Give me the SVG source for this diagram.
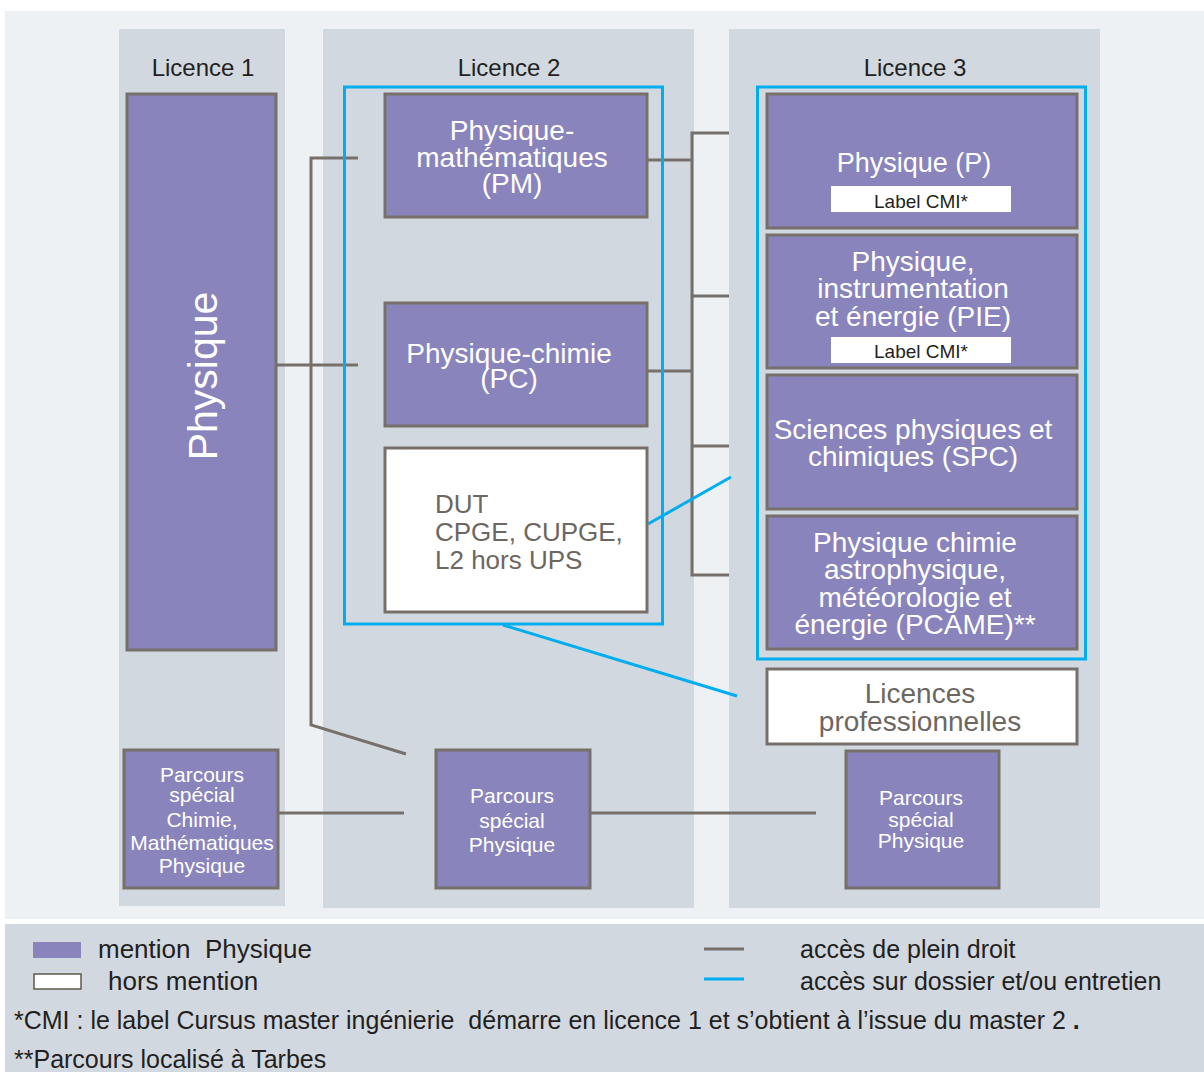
<svg xmlns="http://www.w3.org/2000/svg" width="1204" height="1072" viewBox="0 0 1204 1072">
<style>
text{font-family:"Liberation Sans",Arial,sans-serif}
.col{fill:#d1d8e0}
.mention{fill:#8a84bd;stroke:#77706a;stroke-width:3}
.hors{fill:#ffffff;stroke:#77706a;stroke-width:3}
.sel{fill:none;stroke:#00aeef;stroke-width:3}
.w{fill:#ffffff;text-anchor:middle}
.g{fill:#6d6762}
.k{fill:#231f20}
.t{fill:#231f20;font-size:24px;text-anchor:middle}
.big{font-size:28px}
.sm{font-size:21px}
.plein{fill:none;stroke:#77706a;stroke-width:3}
.dossier{fill:none;stroke:#00aeef;stroke-width:3}
</style>
<rect x="0" y="0" width="1204" height="1072" fill="#ffffff"/>
<rect x="5" y="11" width="1199" height="908" fill="#edf1f4"/>
<rect x="5" y="924" width="1199" height="148" fill="#d1d8e0"/>
<g id="columns">
<rect class="col" x="119" y="29" width="166" height="877"/>
<rect class="col" x="323" y="29" width="371" height="879"/>
<rect class="col" x="729" y="29" width="371" height="879"/>
<text class="t" x="203" y="76">Licence 1</text>
<text class="t" x="509" y="76">Licence 2</text>
<text class="t" x="915" y="76">Licence 3</text>
</g>
<g id="connectors">
<path class="plein" d="M276,365 H358 M358,158 H311 V725 L406,754"/>
<path class="plein" d="M648,160 H692 M648,371 H692 M729,133 H692 V575 H729 M692,296 H729 M692,446 H729"/>
<path class="plein" d="M278,813 H404 M590,813 H816"/>
<path class="dossier" d="M648,524 L731,477 M503,625 L737,696"/>
</g>
<g id="l2-group"><rect class="sel" x="344.5" y="87" width="318" height="537"/></g>
<g id="l3-group"><rect class="sel" x="757.5" y="87" width="328" height="572"/></g>
<g id="l1-physique">
<rect class="mention" x="127" y="94" width="149" height="556"/>
<text class="w" font-size="41" transform="translate(217,376) rotate(-90)">Physique</text>
</g>
<g id="pm">
<rect class="mention" x="385" y="94" width="262" height="123"/>
<text class="w big" x="512" y="140">Physique-</text>
<text class="w big" x="512" y="167">mathématiques</text>
<text class="w big" x="512" y="193">(PM)</text>
</g>
<g id="pc">
<rect class="mention" x="385" y="303" width="262" height="123"/>
<text class="w big" x="509" y="363">Physique-chimie</text>
<text class="w big" x="509" y="388">(PC)</text>
</g>
<g id="dut">
<rect class="hors" x="385" y="448" width="262" height="164"/>
<text class="g" font-size="26" x="435" y="513">DUT</text>
<text class="g" font-size="26" x="435" y="541">CPGE, CUPGE,</text>
<text class="g" font-size="26" x="435" y="569">L2 hors UPS</text>
</g>
<g id="p">
<rect class="mention" x="767" y="94" width="310" height="134"/>
<text class="w" font-size="27" x="914" y="172">Physique (P)</text>
<rect x="831" y="186" width="180" height="26" fill="#ffffff"/>
<text class="k" font-size="19" text-anchor="middle" x="921" y="208">Label CMI*</text>
</g>
<g id="pie">
<rect class="mention" x="767" y="235" width="310" height="133"/>
<text class="w big" x="913" y="271">Physique,</text>
<text class="w big" x="913" y="298">instrumentation</text>
<text class="w big" x="913" y="326">et énergie (PIE)</text>
<rect x="831" y="337" width="180" height="26" fill="#ffffff"/>
<text class="k" font-size="19" text-anchor="middle" x="921" y="358">Label CMI*</text>
</g>
<g id="spc">
<rect class="mention" x="767" y="375" width="310" height="134"/>
<text class="w big" x="913" y="439">Sciences physiques et</text>
<text class="w big" x="913" y="466">chimiques (SPC)</text>
</g>
<g id="pcame">
<rect class="mention" x="767" y="516" width="310" height="133"/>
<text class="w big" x="915" y="552">Physique chimie</text>
<text class="w big" x="915" y="579">astrophysique,</text>
<text class="w big" x="915" y="607">météorologie et</text>
<text class="w big" x="915" y="634">énergie (PCAME)**</text>
</g>
<g id="lp">
<rect class="hors" x="767" y="669" width="310" height="75"/>
<text class="g" font-size="28" text-anchor="middle" x="920" y="703">Licences</text>
<text class="g" font-size="28" text-anchor="middle" x="920" y="731">professionnelles</text>
</g>
<g id="ps-l1">
<rect class="mention" x="124" y="750" width="154" height="138"/>
<text class="w" font-size="21" x="202" y="782">Parcours</text>
<text class="w" font-size="21" x="202" y="802">spécial</text>
<text class="w" font-size="21" x="202" y="827">Chimie,</text>
<text class="w" font-size="21" x="202" y="850">Mathématiques</text>
<text class="w" font-size="21" x="202" y="873">Physique</text>
</g>
<g id="ps-l2">
<rect class="mention" x="436" y="750" width="154" height="138"/>
<text class="w sm" x="512" y="803">Parcours</text>
<text class="w sm" x="512" y="828">spécial</text>
<text class="w sm" x="512" y="852">Physique</text>
</g>
<g id="ps-l3">
<rect class="mention" x="846" y="751" width="153" height="137"/>
<text class="w sm" x="921" y="805">Parcours</text>
<text class="w sm" x="921" y="827">spécial</text>
<text class="w sm" x="921" y="848">Physique</text>
</g>
<g id="legend">
<rect x="33" y="942" width="48" height="16" fill="#8a84bd"/>
<text class="k" font-size="26" x="98" y="958">mention&#160; Physique</text>
<rect x="34" y="974" width="47" height="15" fill="#ffffff" stroke="#5e5a48" stroke-width="1.5"/>
<text class="k" font-size="26" x="108" y="990">hors mention</text>
<line x1="704" y1="949" x2="744" y2="949" stroke="#77706a" stroke-width="3"/>
<text class="k" font-size="25" x="800" y="958">accès de plein droit</text>
<line x1="704" y1="979" x2="744" y2="979" stroke="#00aeef" stroke-width="3"/>
<text class="k" font-size="25" x="800" y="990">accès sur dossier et/ou entretien</text>
<text class="k" font-size="25" x="14" y="1029">*CMI : le label Cursus master ingénierie&#160; démarre en licence 1 et s’obtient à l’issue du master 2 <tspan font-weight="bold">.</tspan></text>
<text class="k" font-size="25" x="14" y="1068">**Parcours localisé à Tarbes</text>
</g>
</svg>
